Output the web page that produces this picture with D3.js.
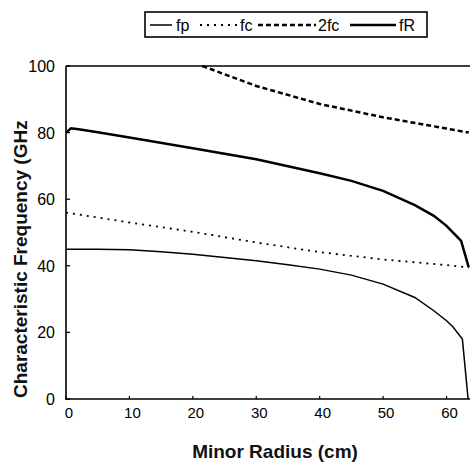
<!DOCTYPE html>
<html>
<head>
<meta charset="utf-8">
<script src="https://cdn.jsdelivr.net/npm/d3@7"></script>
<style>
  body { margin: 0; background: #fff; }
  svg { display: block; font-family: "Liberation Sans", Arial, sans-serif; }
</style>
</head>
<body>
<div id="chart"></div>
<script>
// minor radius (cm) / frequency (GHz)
const fpR = [0, 5, 10, 15, 20, 25, 30, 35, 40, 45, 50, 55, 58, 60, 61, 62.5, 63.4];
const fpF = [45, 45, 44.8, 44.2, 43.5, 42.5, 41.5, 40.3, 39, 37.2, 34.5, 30.5, 26.5, 23.5, 21.7, 18, 0];

const fcR = [0, 10, 20, 30, 40, 50, 60, 63.5];
const fcF = [56, 53, 50.2, 47, 44.1, 41.9, 40.2, 39.5];

const f2cR = [21.5, 30, 40, 50, 60, 63.5];
const f2cF = [100, 94, 88.6, 84.6, 81.2, 80];

const fRR = [0, 0.8, 2, 5, 10, 20, 30, 40, 45, 50, 55, 58, 60, 62.3, 63.5];
const fRF = [80, 81.3, 81, 80.1, 78.5, 75.3, 72, 67.8, 65.5, 62.5, 58.2, 55, 52, 47.5, 39.5];

const xTicks = [0, 10, 20, 30, 40, 50, 60];
const yTicks = [0, 20, 40, 60, 80, 100];

const legendNames = ['fp', 'fc', '2fc', 'fR'];

const width = 473, height = 465;
const svg = d3.select('#chart').append('svg')
    .attr('width', width)
    .attr('height', height);

const x = d3.scaleLinear().domain([0, 63.7]).range([66, 470]);
const y = d3.scaleLinear().domain([0, 100]).range([399, 66]);

// frame
svg.append('line')
    .attr('x1', x(0)).attr('x2', x(0))
    .attr('y1', y(100)).attr('y2', y(0) + 1)
    .attr('stroke', '#000').attr('stroke-width', 1.6);
svg.append('line')
    .attr('x1', x(0)).attr('x2', x(63.7))
    .attr('y1', y(0)).attr('y2', y(0))
    .attr('stroke', '#000').attr('stroke-width', 1.6);
svg.append('line')
    .attr('x1', x(0)).attr('x2', x(63.7))
    .attr('y1', y(100)).attr('y2', y(100))
    .attr('stroke', '#000').attr('stroke-width', 1.3);

// ticks (inward)
svg.selectAll('.ytick')
    .data(yTicks)
    .join('line')
        .attr('class', 'ytick')
        .attr('x1', x(0)).attr('x2', x(0) + 4)
        .attr('y1', d => y(d)).attr('y2', d => y(d))
        .attr('stroke', '#000').attr('stroke-width', 1.3);

svg.selectAll('.xtick')
    .data(xTicks)
    .join('line')
        .attr('class', 'xtick')
        .attr('x1', d => x(d)).attr('x2', d => x(d))
        .attr('y1', y(0)).attr('y2', y(0) - 3)
        .attr('stroke', '#000').attr('stroke-width', 1.2);

svg.selectAll('.ylabel')
    .data(yTicks)
    .join('text')
        .attr('class', 'ylabel')
        .attr('x', 55)
        .attr('y', d => y(d) + 6)
        .attr('text-anchor', 'end')
        .attr('font-size', 16)
        .text(d => d);

svg.selectAll('.xlabel')
    .data(xTicks)
    .join('text')
        .attr('class', 'xlabel')
        .attr('x', d => x(d) + 3)
        .attr('y', 418)
        .attr('text-anchor', 'middle')
        .attr('font-size', 15)
        .text(d => d);

// axis titles
svg.append('text')
    .attr('x', 275)
    .attr('y', 458)
    .attr('text-anchor', 'middle')
    .attr('font-size', 19)
    .attr('font-weight', 'bold')
    .attr('fill', '#111')
    .text('Minor Radius (cm)');

svg.append('text')
    .attr('transform', 'translate(27,398) rotate(-90)')
    .attr('text-anchor', 'start')
    .attr('font-size', 19)
    .attr('font-weight', 'bold')
    .attr('fill', '#111')
    .text('Characteristic Frequency (GHz');

// curves
const line = d3.line()
    .x(d => x(d[0]))
    .y(d => y(d[1]));

const series = [
    { r: fpR, f: fpF, w: 1.5, dash: null },
    { r: fcR, f: fcF, w: 1.8, dash: '2,5' },
    { r: f2cR, f: f2cF, w: 2.5, dash: '5,3' },
    { r: fRR, f: fRF, w: 2.5, dash: null }
];

svg.selectAll('.curve')
    .data(series)
    .join('path')
        .attr('class', 'curve')
        .attr('d', s => line(d3.zip(s.r, s.f)))
        .attr('fill', 'none')
        .attr('stroke', '#000')
        .attr('stroke-width', s => s.w)
        .attr('stroke-dasharray', s => s.dash);

// legend
const legend = svg.append('g');
legend.append('rect')
    .attr('x', 145).attr('y', 12)
    .attr('width', 282).attr('height', 25)
    .attr('fill', 'none')
    .attr('stroke', '#000')
    .attr('stroke-width', 1.6);

const legendPos = [
    { x1: 150, x2: 172, tx: 176 },
    { x1: 200, x2: 238, tx: 240 },
    { x1: 258, x2: 316, tx: 318 },
    { x1: 350, x2: 396, tx: 399 }
];

const items = legend.selectAll('.legend-item')
    .data(series)
    .join('g')
        .attr('class', 'legend-item');

items.append('line')
    .attr('x1', (d, i) => legendPos[i].x1)
    .attr('x2', (d, i) => legendPos[i].x2)
    .attr('y1', 25).attr('y2', 25)
    .attr('stroke', '#000')
    .attr('stroke-width', d => d.w)
    .attr('stroke-dasharray', d => d.dash);

items.append('text')
    .attr('x', (d, i) => legendPos[i].tx)
    .attr('y', 31)
    .attr('font-size', 16)
    .text((d, i) => legendNames[i]);
</script>
</body>
</html>
